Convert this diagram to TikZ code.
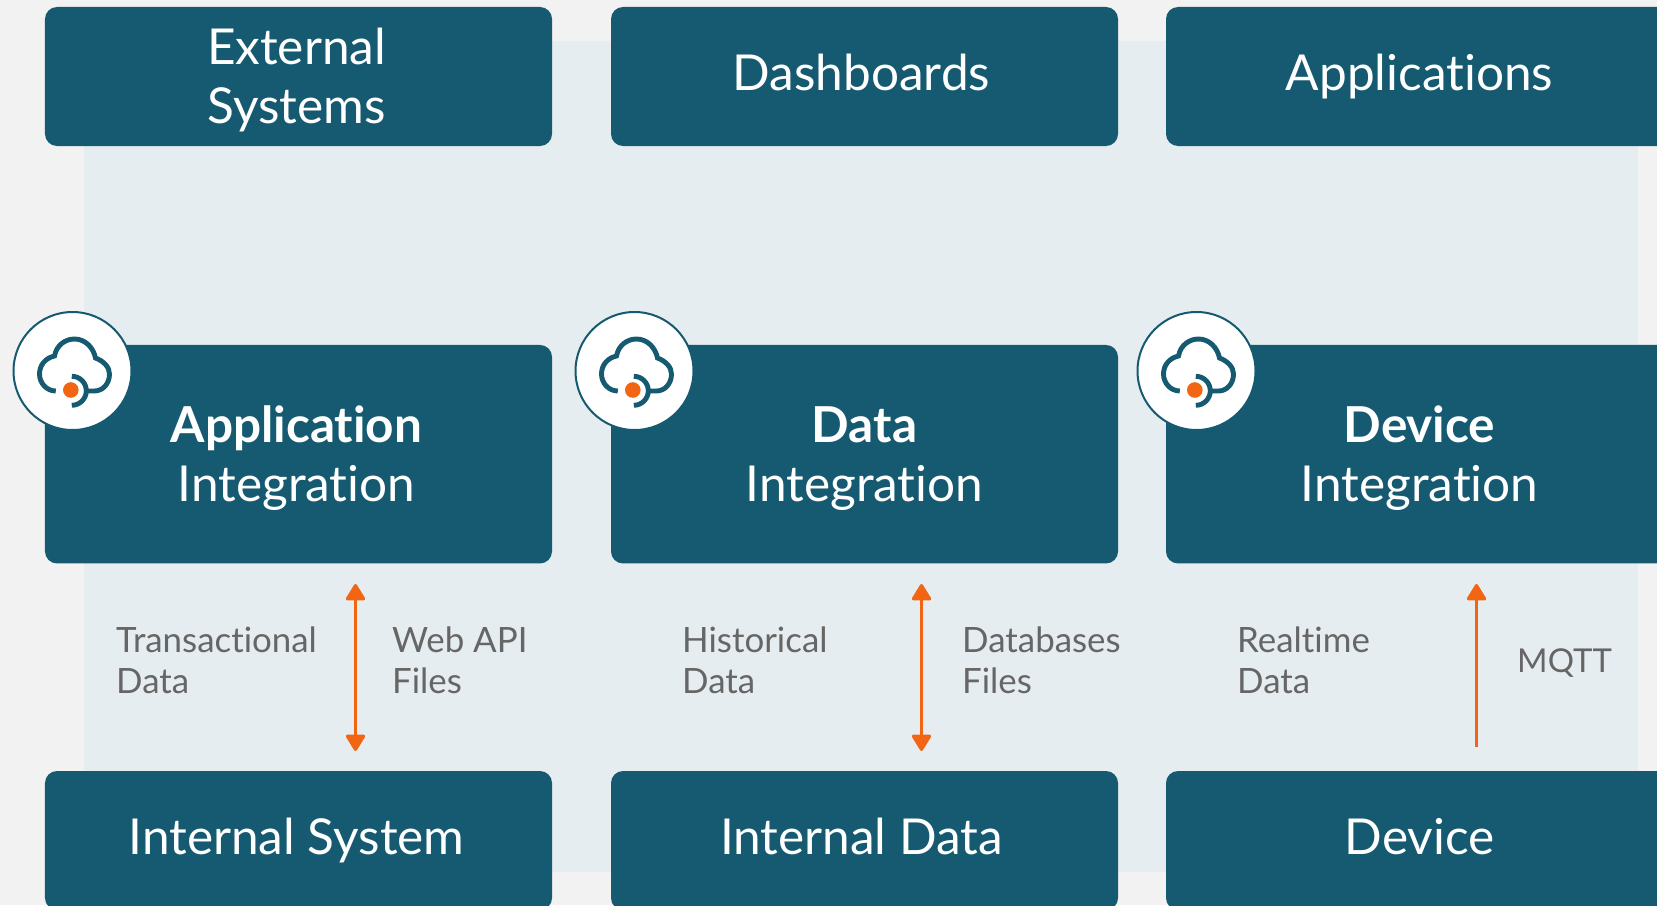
\documentclass[tikz,border=0pt]{standalone}
\usepackage{fontspec}
\setmainfont{Lato}[Ligatures=NoCommon]
\usetikzlibrary{arrows.meta}
\definecolor{pagebg}{HTML}{F2F2F2}
\definecolor{panelbg}{HTML}{E6EDF0}
\definecolor{teal}{HTML}{155A70}
\definecolor{orangeA}{HTML}{F26513}
\definecolor{labelgray}{HTML}{666666}
\newcommand{\fixline}[1]{\vphantom{Ag}#1}
\newcommand{\firstline}[2]{\hspace*{#1bp}\rule{0pt}{45bp}\fixline{#2}}
\newcommand{\nextline}[2]{\hspace*{#1bp}\fixline{#2}}
\tikzset{
  x=1bp,y=-1bp,
  box/.style={fill=teal,rounded corners=12bp,text=white,align=center,inner sep=0pt,minimum width=507bp,font=\fontsize{49.7}{59.2}\selectfont},
  toprow/.style={box,minimum height=139bp},
  midrow/.style={box,minimum height=218.5bp},
  botrow/.style={box,minimum height=139bp},
  lbl/.style={text=labelgray,align=left,anchor=west,inner sep=0pt,font=\fontsize{35}{41.2}\selectfont},
  flow/.style={draw=orangeA,line width=3.2bp,-{Triangle[width=21bp,length=18bp,round]}},
  flowboth/.style={draw=orangeA,line width=3.2bp,{Triangle[width=21bp,length=18bp,round]}-{Triangle[width=21bp,length=18bp,round]}},
  badge/.pic={
    \node[circle,fill=white,draw=teal,line width=2bp,minimum size=118bp,inner sep=0pt] (-disc) at (0,0) {};
    \draw[teal,line width=4.9bp] (-16.7,20) .. controls (-26,20) and (-33,12) .. (-33,3)
      .. controls (-33,-6) and (-27,-13) .. (-18,-15)
      .. controls (-16,-26) and (-7,-32) .. (2,-32)
      .. controls (13,-32) and (21,-23) .. (23,-13)
      .. controls (31,-10) and (37,-4) .. (37,3)
      .. controls (37,13) and (30,20) .. (22,20) -- (13.8,20);
    \draw[teal,line width=4.9bp] (-0.7,5.3) .. controls (7.3,5.3) and (13.8,11.8) .. (13.8,19.8)
      .. controls (13.8,27.8) and (7.3,34.3) .. (-0.7,34.3);
    \fill[orangeA] (-1.7,19) circle[radius=7.8bp];
  }
}
\begin{document}
\begin{tikzpicture}
\useasboundingbox (0,0) rectangle (1657,905);
\clip (0,0) rectangle (1657,905);
\fill[pagebg] (0,0) rectangle (1657,905);
\fill[panelbg] (84,41) rectangle (1638,872);

\node[toprow] (ext) at (298.5,76.5) {\firstline{-4}{External}\\\nextline{-4}{Systems}};
\node[toprow] (dash) at (864.5,76.5) {\hspace*{-6bp}\raisebox{4bp}{\fixline{Dashboards}}};
\node[toprow] (apps) at (1419.5,76.5) {\raisebox{4bp}{\fixline{Applications}}};

\node[midrow] (appint) at (298.5,454.2) {\firstline{-4}{\textbf{Application}}\\\nextline{-4}{Integration}};
\node[midrow] (dataint) at (864.5,454.2) {\firstline{0}{\textbf{Data}}\\\nextline{0}{Integration}};
\node[midrow] (devint) at (1419.5,454.2) {\firstline{0}{\textbf{Device}}\\\nextline{0}{Integration}};

\node[botrow] (intsys) at (298.5,840.5) {\hspace*{-4bp}\fixline{Internal System}};
\node[botrow] (intdata) at (864.5,840.5) {\hspace*{-6bp}\fixline{Internal Data}};
\node[botrow] (dev) at (1419.5,840.5) {\fixline{Device}};

\pic at (72.5,371) {badge};
\pic at (634.5,371) {badge};
\pic at (1196.5,371) {badge};

\coordinate (a1t) at (355.5,584);
\coordinate (a1b) at (355.5,751);
\coordinate (a2t) at (921.5,584);
\coordinate (a2b) at (921.5,751);
\coordinate (a3t) at (1476.5,584);
\coordinate (a3b) at (1476.5,747);
\draw[flowboth] (a1t) -- (a1b);
\draw[flowboth] (a2t) -- (a2b);
\draw[flow] (a3b) -- (a3t);

\node[lbl] (l1) at (116,660.5) {Transactional\\Data};
\node[lbl] (r1) at (392,660.5) {Web API\\Files};
\node[lbl] (l2) at (682,660.5) {Historical\\Data};
\node[lbl] (r2) at (962,660.5) {Databases\\Files};
\node[lbl] (l3) at (1237,660.5) {Realtime\\Data};
\node[lbl,font=\fontsize{33}{41}\selectfont] (r3) at (1517,663.5) {MQTT};
\end{tikzpicture}
\end{document}
